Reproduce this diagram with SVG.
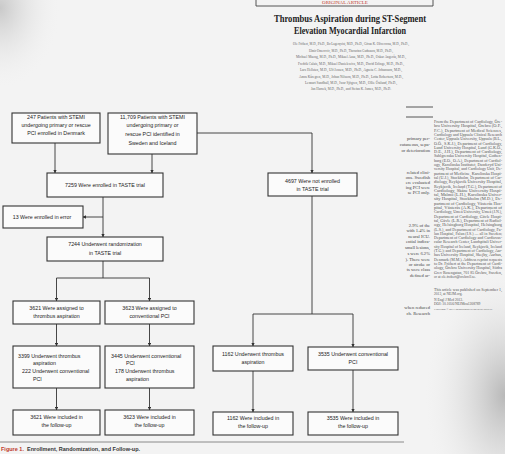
<svg xmlns="http://www.w3.org/2000/svg" width="505" height="454" viewBox="0 0 505 454">
<defs>
<radialGradient id="tl" cx="0" cy="0.05" r="0.5">
<stop offset="0" stop-color="#c9c9c9"/>
<stop offset="1" stop-color="#f1f1f1" stop-opacity="0"/>
</radialGradient>
<radialGradient id="br" cx="1" cy="0.75" r="0.55">
<stop offset="0" stop-color="#b8b8b8"/>
<stop offset="1" stop-color="#ececec" stop-opacity="0"/>
</radialGradient>
<marker id="ah" viewBox="0 0 6 6" refX="5.5" refY="3" markerWidth="4" markerHeight="4" orient="auto">
<path d="M0,0 L6,3 L0,6 z" fill="#333"/>
</marker>
<style>
.bx{fill:#fbfbfb;stroke:#333;stroke-width:1.1}
.t{font-family:"Liberation Sans",Arial,sans-serif;font-size:5.3px;fill:#222;text-anchor:middle}
.tl{font-family:"Liberation Sans",Arial,sans-serif;font-size:5.3px;fill:#222}
.c{fill:none;stroke:#333;stroke-width:0.9}
.ca{fill:none;stroke:#333;stroke-width:0.9;marker-end:url(#ah)}
.au{font-family:"Liberation Serif","Times New Roman",serif;font-size:4.3px;fill:#666;text-anchor:middle}
.mc{font-family:"Liberation Serif","Times New Roman",serif;font-size:4.6px;fill:#444;text-anchor:end}
.af{font-family:"Liberation Serif","Times New Roman",serif;font-size:3.6px;fill:#555}
.cp{font-family:"Liberation Serif","Times New Roman",serif;font-size:2.9px;fill:#555}
</style>
</defs>
<rect width="505" height="454" fill="#f3f3f3"/>
<rect width="120" height="160" fill="url(#tl)"/>
<rect x="360" y="220" width="145" height="234" fill="url(#br)"/>

<!-- header -->
<g id="header">
<path d="M256,0 V6 H433 V0" fill="none" stroke="#444" stroke-width="0.9"/>
<text x="345" y="4" font-family="Liberation Serif,serif" font-size="5" fill="#c0392b" text-anchor="middle">ORIGINAL ARTICLE</text>
<text x="350" y="22" font-family="Liberation Serif,'Times New Roman',serif" font-size="9.5" font-weight="bold" fill="#222" text-anchor="middle" textLength="152" lengthAdjust="spacingAndGlyphs">Thrombus Aspiration during ST-Segment</text>
<text x="350" y="34" font-family="Liberation Serif,'Times New Roman',serif" font-size="9.5" font-weight="bold" fill="#222" text-anchor="middle" textLength="112" lengthAdjust="spacingAndGlyphs">Elevation Myocardial Infarction</text>
<text class="au" x="351" y="45" textLength="116" lengthAdjust="spacingAndGlyphs">Ole Fröbert, M.D., Ph.D., Bo Lagerqvist, M.D., Ph.D., Göran K. Olivecrona, M.D., Ph.D.,</text>
<text class="au" x="351" y="52" textLength="84" lengthAdjust="spacingAndGlyphs">Elmir Omerovic, M.D., Ph.D., Thorarinn Gudnason, M.D., Ph.D.,</text>
<text class="au" x="351" y="58" textLength="110" lengthAdjust="spacingAndGlyphs">Michael Maeng, M.D., Ph.D., Mikael Aasa, M.D., Ph.D., Oskar Angerås, M.D.,</text>
<text class="au" x="351" y="65" textLength="106" lengthAdjust="spacingAndGlyphs">Fredrik Calais, M.D., Mikael Danielewicz, M.D., David Erlinge, M.D., Ph.D.,</text>
<text class="au" x="351" y="71" textLength="102" lengthAdjust="spacingAndGlyphs">Lars Hellsten, M.D., Ulf Jensen, M.D., Ph.D., Agneta C. Johansson, M.D.,</text>
<text class="au" x="351" y="78" textLength="104" lengthAdjust="spacingAndGlyphs">Amra Kåregren, M.D., Johan Nilsson, M.D., Ph.D., Lotta Robertson, M.D.,</text>
<text class="au" x="351" y="84" textLength="92" lengthAdjust="spacingAndGlyphs">Lennart Sandhall, M.D., Iwar Sjögren, M.D., Ollie Östlund, Ph.D.,</text>
<text class="au" x="351" y="90" textLength="80" lengthAdjust="spacingAndGlyphs">Jan Harnek, M.D., Ph.D., and Stefan K. James, M.D., Ph.D.</text>
<line x1="406" y1="107" x2="433" y2="107" stroke="#444" stroke-width="0.9"/>
<line x1="406" y1="117" x2="433" y2="117" stroke="#444" stroke-width="0.9"/>
</g>

<!-- middle column fragments -->
<g id="middle-column">
<text class="mc" x="430" y="140">primary per-</text>
<text class="mc" x="430" y="146">cutaneous, sepa-</text>
<text class="mc" x="430" y="152">or deterioration</text>
<text class="mc" x="430" y="174">related clini-</text>
<text class="mc" x="430" y="179">ons. Swedish</text>
<text class="mc" x="430" y="184">ere evaluated</text>
<text class="mc" x="430" y="189">ing PCI were</text>
<text class="mc" x="430" y="194">se PCI only.</text>
<text class="mc" x="430" y="227">2.9% of the</text>
<text class="mc" x="430" y="232">with 1.4% in</text>
<text class="mc" x="430" y="238">neural ICU.</text>
<text class="mc" x="430" y="243">ential indica-</text>
<text class="mc" x="430" y="249">small lesions,</text>
<text class="mc" x="430" y="255">s were 6.2%</text>
<text class="mc" x="430" y="261">). There were</text>
<text class="mc" x="430" y="266">or stroke or</text>
<text class="mc" x="430" y="271">ts were class</text>
<text class="mc" x="430" y="277">defined ar-</text>
<text class="mc" x="430" y="309">when reduced</text>
<text class="mc" x="430" y="315">ch. Research</text>
</g>

<!-- right column affiliations -->
<g id="affiliations">
<text class="af" x="434" y="123" textLength="68" lengthAdjust="spacingAndGlyphs">From the Department of Cardiology, Öre-</text>
<text class="af" x="434" y="127.3" textLength="68" lengthAdjust="spacingAndGlyphs">bro University Hospital, Örebro (O.F.,</text>
<text class="af" x="434" y="131.6" textLength="68" lengthAdjust="spacingAndGlyphs">F.C.), Department of Medical Sciences,</text>
<text class="af" x="434" y="135.9" textLength="68" lengthAdjust="spacingAndGlyphs">Cardiology and Uppsala Clinical Research</text>
<text class="af" x="434" y="140.2" textLength="68" lengthAdjust="spacingAndGlyphs">Center, Uppsala University, Uppsala (B.L.,</text>
<text class="af" x="434" y="144.5" textLength="68" lengthAdjust="spacingAndGlyphs">O.Ö., S.K.J.), Department of Cardiology,</text>
<text class="af" x="434" y="148.8" textLength="68" lengthAdjust="spacingAndGlyphs">Lund University Hospital, Lund (G.K.O.,</text>
<text class="af" x="434" y="153.1" textLength="68" lengthAdjust="spacingAndGlyphs">D.E., J.H.), Department of Cardiology,</text>
<text class="af" x="434" y="157.4" textLength="68" lengthAdjust="spacingAndGlyphs">Sahlgrenska University Hospital, Gothen-</text>
<text class="af" x="434" y="161.7" textLength="68" lengthAdjust="spacingAndGlyphs">burg (E.O., O.A.), Department of Cardiol-</text>
<text class="af" x="434" y="166" textLength="68" lengthAdjust="spacingAndGlyphs">ogy, Karolinska Institutet, Danderyd Uni-</text>
<text class="af" x="434" y="170.3" textLength="68" lengthAdjust="spacingAndGlyphs">versity Hospital, and Cardiology Unit, De-</text>
<text class="af" x="434" y="174.6" textLength="68" lengthAdjust="spacingAndGlyphs">partment of Medicine, Karolinska Hospi-</text>
<text class="af" x="434" y="178.9" textLength="68" lengthAdjust="spacingAndGlyphs">tal (U.J.), Stockholm, Department of Car-</text>
<text class="af" x="434" y="183.2" textLength="68" lengthAdjust="spacingAndGlyphs">diology, Reykjavik University Hospital,</text>
<text class="af" x="434" y="187.5" textLength="68" lengthAdjust="spacingAndGlyphs">Reykjavik, Iceland (T.G.), Department of</text>
<text class="af" x="434" y="191.8" textLength="68" lengthAdjust="spacingAndGlyphs">Cardiology, Skåne University Hospi-</text>
<text class="af" x="434" y="196.1" textLength="68" lengthAdjust="spacingAndGlyphs">tal, Malmö (L.H.), Karolinska Univer-</text>
<text class="af" x="434" y="200.4" textLength="68" lengthAdjust="spacingAndGlyphs">sity Hospital, Stockholm (M.D.), De-</text>
<text class="af" x="434" y="204.7" textLength="68" lengthAdjust="spacingAndGlyphs">partment of Cardiology, Västerås Hos-</text>
<text class="af" x="434" y="209" textLength="68" lengthAdjust="spacingAndGlyphs">pital, Västerås (A.K.), Department of</text>
<text class="af" x="434" y="213.3" textLength="68" lengthAdjust="spacingAndGlyphs">Cardiology, Umeå University, Umeå (J.N.),</text>
<text class="af" x="434" y="217.6" textLength="68" lengthAdjust="spacingAndGlyphs">Department of Cardiology, Gävle Hospi-</text>
<text class="af" x="434" y="221.9" textLength="68" lengthAdjust="spacingAndGlyphs">tal, Gävle (L.R.), Department of Radiol-</text>
<text class="af" x="434" y="226.2" textLength="68" lengthAdjust="spacingAndGlyphs">ogy, Helsingborg Hospital, Helsingborg</text>
<text class="af" x="434" y="230.5" textLength="68" lengthAdjust="spacingAndGlyphs">(L.S.), and Department of Cardiology, Fa-</text>
<text class="af" x="434" y="234.8" textLength="68" lengthAdjust="spacingAndGlyphs">lun Hospital, Falun (I.S.) — all in Sweden;</text>
<text class="af" x="434" y="239.1" textLength="68" lengthAdjust="spacingAndGlyphs">Department of Cardiology and Cardiovas-</text>
<text class="af" x="434" y="243.4" textLength="68" lengthAdjust="spacingAndGlyphs">cular Research Center, Landspitali Univer-</text>
<text class="af" x="434" y="247.7" textLength="68" lengthAdjust="spacingAndGlyphs">sity Hospital of Iceland, Reykjavik, Iceland</text>
<text class="af" x="434" y="252" textLength="68" lengthAdjust="spacingAndGlyphs">(T.G.); and Department of Cardiology, Aar-</text>
<text class="af" x="434" y="256.3" textLength="68" lengthAdjust="spacingAndGlyphs">hus University Hospital, Skejby, Aarhus,</text>
<text class="af" x="434" y="260.6" textLength="68" lengthAdjust="spacingAndGlyphs">Denmark (M.M.). Address reprint requests</text>
<text class="af" x="434" y="264.9" textLength="68" lengthAdjust="spacingAndGlyphs">to Dr. Fröbert at the Department of Cardi-</text>
<text class="af" x="434" y="269.2" textLength="68" lengthAdjust="spacingAndGlyphs">ology, Örebro University Hospital, Södra</text>
<text class="af" x="434" y="273.5" textLength="68" lengthAdjust="spacingAndGlyphs">Grev Rosengatan, 701 85 Örebro, Sweden,</text>
<text class="af" x="434" y="277.8">or at ole.frobert@orebroll.se.</text>
<text class="af" x="434" y="291" textLength="68" lengthAdjust="spacingAndGlyphs">This article was published on September 1,</text>
<text class="af" x="434" y="295.3">2013, at NEJM.org.</text>
<text class="af" x="434" y="301">N Engl J Med 2013.</text>
<text class="af" x="434" y="305.3">DOI: 10.1056/NEJMoa1308789</text>
<text class="cp" x="434" y="309.6">Copyright © 2013 Massachusetts Medical Society.</text>
</g>

<!-- connectors -->
<g id="connectors">
<line class="ca" x1="55" y1="143" x2="55" y2="173"/>
<line class="ca" x1="152" y1="154" x2="152" y2="173"/>
<path class="ca" d="M197,133 H312 V173"/>
<line class="ca" x1="103" y1="197" x2="103" y2="237"/>
<line class="ca" x1="103" y1="217" x2="83" y2="217"/>
<line class="c" x1="103" y1="261" x2="103" y2="278"/>
<line class="c" x1="56.5" y1="278" x2="149.5" y2="278"/>
<line class="ca" x1="56.5" y1="278" x2="56.5" y2="301"/>
<line class="ca" x1="149.5" y1="278" x2="149.5" y2="301"/>
<line class="ca" x1="56.5" y1="324" x2="56.5" y2="346"/>
<line class="ca" x1="149.5" y1="324" x2="149.5" y2="346"/>
<line class="ca" x1="56.5" y1="388" x2="56.5" y2="410"/>
<line class="ca" x1="149.5" y1="388" x2="149.5" y2="410"/>
<line class="c" x1="312" y1="196" x2="312" y2="314"/>
<line class="c" x1="253" y1="314" x2="353" y2="314"/>
<line class="ca" x1="253" y1="314" x2="253" y2="346"/>
<line class="ca" x1="353" y1="314" x2="353" y2="347"/>
<line class="ca" x1="253" y1="371" x2="253" y2="412"/>
<line class="ca" x1="353" y1="370" x2="353" y2="412"/>
</g>

<!-- nodes -->
<g id="denmark">
<rect class="bx" x="12" y="113" width="88" height="30"/>
<text class="t" x="56" y="119">247 Patients with STEMI</text>
<text class="t" x="56" y="127">undergoing primary or rescue</text>
<text class="t" x="56" y="135">PCI enrolled in Denmark</text>
</g>
<g id="sweden">
<rect class="bx" x="108" y="113" width="89" height="41"/>
<text class="t" x="152.5" y="119">11,709 Patients with STEMI</text>
<text class="t" x="152.5" y="127">undergoing primary or</text>
<text class="t" x="152.5" y="136">rescue PCI identified in</text>
<text class="t" x="152.5" y="145">Sweden and Iceland</text>
</g>
<g id="enrolled">
<rect class="bx" x="47" y="173" width="116" height="24"/>
<text class="t" x="105" y="187">7259 Were enrolled in TASTE trial</text>
</g>
<g id="error">
<rect class="bx" x="3" y="206" width="80" height="22"/>
<text class="t" x="42" y="219">13 Were enrolled in error</text>
</g>
<g id="randomized">
<rect class="bx" x="47" y="237" width="116" height="24"/>
<text class="t" x="105" y="246">7244 Underwent randomization</text>
<text class="t" x="105" y="255">in TASTE trial</text>
</g>
<g id="not-enrolled">
<rect class="bx" x="268" y="173" width="89" height="23"/>
<text class="t" x="312.5" y="183">4697 Were not enrolled</text>
<text class="t" x="312.5" y="191">in TASTE trial</text>
</g>
<g id="assigned-ta">
<rect class="bx" x="13" y="301" width="87" height="23"/>
<text class="t" x="56.5" y="310">3621 Were assigned to</text>
<text class="t" x="56.5" y="318">thrombus aspiration</text>
</g>
<g id="assigned-pci">
<rect class="bx" x="105" y="301" width="89" height="23"/>
<text class="t" x="149.5" y="310">3623 Were assigned to</text>
<text class="t" x="149.5" y="318">conventional PCI</text>
</g>
<g id="underwent-ta-arm">
<rect class="bx" x="13" y="346" width="87" height="42"/>
<text class="tl" x="18" y="358">3399 Underwent thrombus</text>
<text class="tl" x="33" y="365">aspiration</text>
<text class="tl" x="22" y="373">222 Underwent conventional</text>
<text class="tl" x="33" y="381">PCI</text>
</g>
<g id="underwent-pci-arm">
<rect class="bx" x="105" y="346" width="89" height="42"/>
<text class="tl" x="111" y="358">3445 Underwent conventional</text>
<text class="tl" x="126" y="365">PCI</text>
<text class="tl" x="115" y="373">178 Underwent thrombus</text>
<text class="tl" x="126" y="381">aspiration</text>
</g>
<g id="followup-ta">
<rect class="bx" x="13" y="410" width="87" height="25"/>
<text class="t" x="56.5" y="419">3621 Were included in</text>
<text class="t" x="56.5" y="427">the follow-up</text>
</g>
<g id="followup-pci">
<rect class="bx" x="105" y="410" width="89" height="25"/>
<text class="t" x="149.5" y="419">3623 Were included in</text>
<text class="t" x="149.5" y="427">the follow-up</text>
</g>
<g id="registry-ta">
<rect class="bx" x="213" y="346" width="80" height="25"/>
<text class="t" x="253" y="356">1162 Underwent thrombus</text>
<text class="t" x="253" y="364">aspiration</text>
</g>
<g id="registry-pci">
<rect class="bx" x="308" y="347" width="90" height="23"/>
<text class="t" x="353" y="356">3535 Underwent conventional</text>
<text class="t" x="353" y="364">PCI</text>
</g>
<g id="registry-followup-ta">
<rect class="bx" x="213" y="412" width="80" height="23"/>
<text class="t" x="253" y="420">1162 Were included in</text>
<text class="t" x="253" y="428">the follow-up</text>
</g>
<g id="registry-followup-pci">
<rect class="bx" x="308" y="412" width="90" height="23"/>
<text class="t" x="353" y="420">3535 Were included in</text>
<text class="t" x="353" y="428">the follow-up</text>
</g>

<!-- caption -->
<g id="caption">
<line x1="0" y1="442" x2="404" y2="442" stroke="#8a8a8a" stroke-width="1"/>
<text x="1" y="451" font-family="'Liberation Sans',Arial,sans-serif" font-size="5.5" font-weight="bold" fill="#c0392b">Figure 1.</text>
<text x="27" y="451" font-family="'Liberation Sans',Arial,sans-serif" font-size="5.5" font-weight="bold" fill="#333">Enrollment, Randomization, and Follow-up.</text>
</g>
</svg>
